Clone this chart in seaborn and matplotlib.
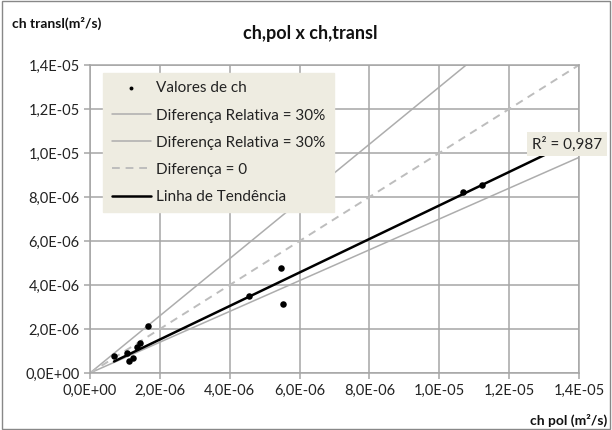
import numpy as np
import pandas as pd
import matplotlib
matplotlib.use("Agg")
import matplotlib.pyplot as plt
from matplotlib.ticker import FuncFormatter, MultipleLocator
import seaborn as sns

# ---- data ----
ch_pol = [0.687e-6, 1.07e-6, 1.12e-6, 1.24e-6, 1.34e-6, 1.43e-6, 1.67e-6,
          4.56e-6, 5.46e-6, 5.52e-6, 10.69e-6, 11.23e-6]
ch_transl = [0.79e-6, 0.89e-6, 0.56e-6, 0.67e-6, 1.20e-6, 1.38e-6, 2.14e-6,
             3.51e-6, 4.76e-6, 3.14e-6, 8.21e-6, 8.55e-6]
rel_diff = 0.30
r2_text = "R² = 0,987"
title = "ch,pol x ch,transl"
xlabel = "ch pol (m²/s)"
ylabel = "ch transl(m²/s)"
legend_labels = ["Valores de ch", "Diferença Relativa = 30%", "Diferença Relativa = 30%",
                 "Diferença = 0", "Linha de Tendência"]

sns.set_theme(style="white")
plt.rcParams['font.family'] = ['Lato', 'DejaVu Sans']

fig = plt.figure(figsize=(6.12, 4.30), dpi=100)
ax = fig.add_axes([90/612, 1-373/430, 489/612, 308/430])

xmax = 1.4e-5
ref_x = np.array([0.0, xmax])
df_pts = pd.DataFrame({"x": ch_pol, "y": ch_transl})

handles = []
sns.lineplot(x=ref_x, y=ref_x*(1+rel_diff), ax=ax, color="#ADADAD", lw=1.1)
handles.append(ax.lines[-1])
sns.lineplot(x=ref_x, y=ref_x*(1-rel_diff), ax=ax, color="#ADADAD", lw=1.1)
handles.append(ax.lines[-1])
sns.lineplot(x=ref_x, y=ref_x, ax=ax, color="#BDBDBD", lw=1.4)
ax.lines[-1].set_dashes([4, 3])
handles.append(ax.lines[-1])

# trendline (through origin)
xa = np.array(ch_pol); ya = np.array(ch_transl)
k = (xa*ya).sum() / (xa*xa).sum()
tx = np.array([xa.min(), 13.2e-6])
sns.lineplot(x=tx, y=k*tx, ax=ax, color="black", lw=1.8)
handles.append(ax.lines[-1])

sns.scatterplot(data=df_pts, x="x", y="y", ax=ax, color="black", s=22,
                edgecolor="black", linewidth=0, zorder=5)
pts = ax.collections[-1]

ax.set_xlim(0, xmax)
ax.set_ylim(0, xmax)
ax.xaxis.set_major_locator(MultipleLocator(2e-6))
ax.yaxis.set_major_locator(MultipleLocator(2e-6))
fmt = FuncFormatter(lambda v, p: f"{v:.1E}".replace(".", ","))
ax.xaxis.set_major_formatter(fmt)
ax.yaxis.set_major_formatter(fmt)
ax.grid(True, color="#A6A6A6", lw=1.1)
ax.set_axisbelow(True)
for s in ax.spines.values():
    s.set_color("#A6A6A6")
    s.set_linewidth(1.1)
ax.tick_params(axis="both", which="major", length=4, width=1.1, color="#A6A6A6",
               labelsize=10.5, labelcolor="#222222", direction="out", bottom=True, left=True)
ax.set_xlabel("")
ax.set_ylabel("")

leg = ax.legend([pts] + handles, legend_labels, loc="upper left",
                bbox_to_anchor=(0.027, 0.974),
                frameon=True, fancybox=False, facecolor="#EEECE1", edgecolor="#EEECE1",
                framealpha=1, fontsize=11, handlelength=2.6, handletextpad=0.3,
                labelspacing=0.86, borderpad=0.55, borderaxespad=0, markerscale=0.6)
for t in leg.get_texts():
    t.set_color("#222222")

# R² label
ax.text(13.66e-6, 10.4e-6, r2_text, ha="center", va="center", fontsize=11,
        color="#222222", bbox=dict(boxstyle="square,pad=0.3", fc="#EEECE1", ec="none"),
        zorder=6, clip_on=False)

fig.text(310/612, 1-33/430, title, ha="center", va="center", fontsize=13,
         fontweight="bold", color="#111111")
fig.text(12/612, 1-23/430, ylabel, ha="left", va="center", fontsize=10,
         fontweight="bold", color="#111111")
fig.text(607/612, 1-420/430, xlabel, ha="right", va="center", fontsize=10,
         fontweight="bold", color="#111111")

border = plt.Rectangle((0.003, 0.003), 0.994, 0.994, transform=fig.transFigure,
                       fill=False, ec="#888888", lw=1)
fig.patches.append(border)

fig.savefig("out.png", dpi=100)
